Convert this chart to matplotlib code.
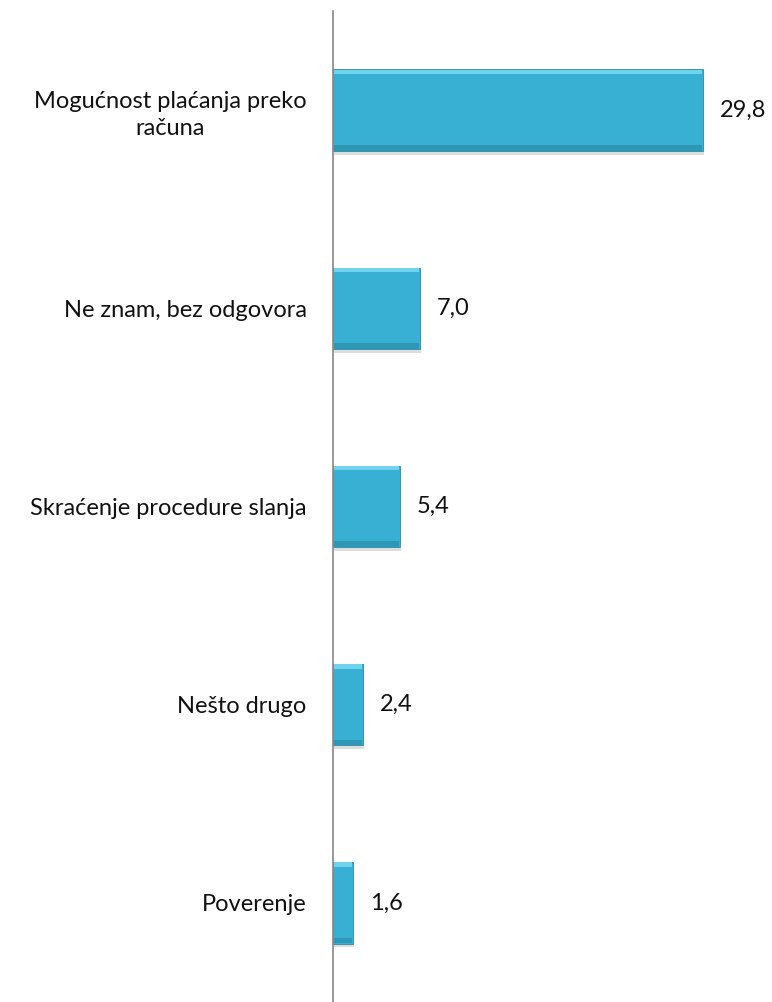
import numpy as np
import matplotlib
matplotlib.use('Agg')
from matplotlib import pyplot as plt

categories = ['Mogućnost plaćanja preko\nračuna', 'Ne znam, bez odgovora',
              'Skraćenje procedure slanja', 'Nešto drugo', 'Poverenje']
values = [29.8, 7.0, 5.4, 2.4, 1.6]
value_labels = ['29,8', '7,0', '5,4', '2,4', '1,6']

plt.rcParams['font.family'] = ['Lato', 'DejaVu Sans']

fig = plt.figure(figsize=(7.72, 10.02), dpi=100)
ax = fig.add_axes([333 / 772, 0.0, 1 - 333 / 772, 991 / 1002])

y = np.arange(len(categories))
bar_h = 0.41

# soft shadow, bar, then thin bevel stripes top and bottom
ax.barh(y + 0.02, values, height=bar_h, left=0.1, color='#dddddd', zorder=1)
ax.barh(y, values, height=bar_h, color='#38b0d3', edgecolor='#2d8ba8', linewidth=0.6, zorder=2)
ax.barh(y - bar_h / 2 + 0.012, [v - 0.2 for v in values], height=0.022, left=0.1,
        color='#6fd3ee', zorder=3)
ax.barh(y + bar_h / 2 - 0.015, [v - 0.2 for v in values], height=0.028, left=0.1,
        color='#2e97b6', zorder=3)

for yi, v, lab in zip(y, values, value_labels):
    ax.text(v + 1.35, yi, lab, va='center', ha='left', fontsize=17, color='#111111')

ax.set_ylim(len(categories) - 0.5, -0.5)
ax.set_xlim(0, 35.35)
ax.set_yticks(y)
ax.set_yticklabels(categories, fontsize=17, color='#111111', multialignment='center',
                   linespacing=1.35)
ax.tick_params(axis='y', length=0, pad=19)
ax.set_xticks([])
for s in ['top', 'right', 'bottom']:
    ax.spines[s].set_visible(False)
ax.spines['left'].set_color('#888888')
ax.spines['left'].set_linewidth(1.2)

fig.savefig('out.png', dpi=100)
